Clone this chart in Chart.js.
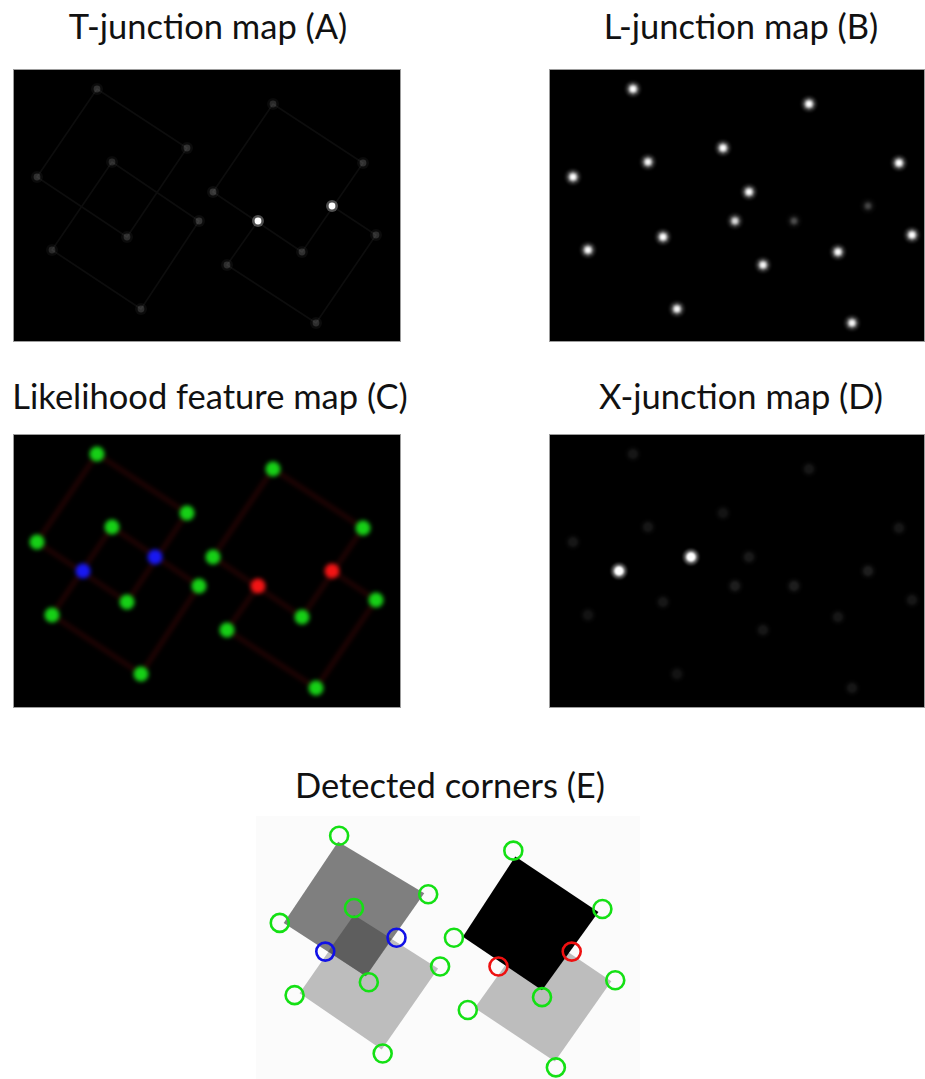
<!DOCTYPE html>
<html>
<head>
<meta charset="utf-8">
<script src="https://cdn.jsdelivr.net/npm/chart.js@4.4.1/dist/chart.umd.min.js"></script>
<style>
  body { margin: 0; background: #fff; width: 925px; height: 1079px; overflow: hidden; position: relative;
         font-family: Lato, "Open Sans", sans-serif; }
  .title { position: absolute; font-size: 34.5px; line-height: 34.5px; color: #111; text-align: center; white-space: nowrap; }
  .panel { position: absolute; overflow: hidden; background: #000; }
  .panel canvas { position: absolute; left: 0; top: 0; }
  .frame { position: absolute; inset: 0; border: 1px solid #9c9c9c; box-sizing: border-box; pointer-events: none; }
</style>
</head>
<body>
  <div class="title" style="left:8px;top:9px;width:400px;">T-junction map (A)</div>
  <div class="title" style="left:561px;top:9px;width:360px;">L-junction map (B)</div>
  <div class="title" style="left:10px;top:378.5px;width:400px;">Likelihood feature map (C)</div>
  <div class="title" style="left:561px;top:378.5px;width:360px;">X-junction map (D)</div>
  <div class="title" style="left:250px;top:767.5px;width:400px;">Detected corners (E)</div>

  <div class="panel" style="left:13px;top:69px;width:388px;height:273px;">
    <canvas id="mapA" width="388" height="273" style="filter:blur(0.7px)"></canvas><div class="frame"></div>
  </div>
  <div class="panel" style="left:549px;top:69px;width:376px;height:273px;">
    <canvas id="mapB" width="376" height="273" style="filter:blur(0.8px)"></canvas><div class="frame"></div>
  </div>
  <div class="panel" style="left:13px;top:434px;width:388px;height:274px;">
    <canvas id="mapC" width="388" height="274" style="filter:blur(2px)"></canvas><div class="frame"></div>
  </div>
  <div class="panel" style="left:549px;top:434px;width:376px;height:274px;">
    <canvas id="mapD" width="376" height="274" style="filter:blur(1.2px)"></canvas><div class="frame"></div>
  </div>
  <div class="panel" style="left:256px;top:816px;width:384px;height:263px;background:#fbfbfb;">
    <canvas id="mapE" width="384" height="263" style="filter:blur(0.4px)"></canvas>
  </div>

<script>
// Junction positions in image pixels (x to the right, y downward)
const cornerType = ['L','L','L','L','L','L','L','L','L','L','L','L','L','L','L','T','T','X','X'];
const cornerX = [84, 174, 99, 24, 114, 39, 128, 260, 350, 200, 186, 363, 289, 214, 303, 245, 319, 70, 142];
const cornerY = [20, 79, 93, 108, 168, 181, 240, 35, 94, 123, 152, 166, 183, 196, 254, 152, 137, 137, 123];

// Response of each junction filter at every detected position (0..1)
const tResponse = [0.15, 0.15, 0.13, 0.15, 0.14, 0.13, 0.14, 0.13, 0.15, 0.17, 0.16, 0.14, 0.15, 0.14, 0.14, 1, 1, 0, 0];
const lResponse = [1, 1, 0.9, 1, 1, 0.95, 0.9, 1, 1, 0.95, 0.7, 1, 0.95, 0.9, 0.9, 0.18, 0.16, 0, 0];
const xResponse = [0.07, 0.06, 0.07, 0.07, 0.07, 0.06, 0.06, 0.07, 0.07, 0.08, 0.09, 0.07, 0.07, 0.07, 0.07, 0.09, 0.09, 1, 1];

// Image edges, as chains of junction indices
const edgePaths = [[0, 1, 4, 3, 0], [2, 10, 6, 5, 2], [7, 8, 12, 9, 7], [16, 11, 14, 13, 15]];

// Squares of the test scene, painted in this order
const squareFill = ['#bdbdbd', '#7f7f7f', '#5e5e5e', '#bdbdbd', '#000000'];
const squareX = [[99, 184, 127, 44], [83, 170, 111, 28], [99, 137, 111, 73], [279, 359, 302, 221], [262, 346, 289, 209]];
const squareY = [[100, 154, 236, 179], [26, 78, 162, 108], [100, 124, 162, 137], [113, 167, 248, 194], [41, 97, 176, 122]];

// Fills each dataset flagged as a polygon, beneath the point and line datasets
const polygonPlugin = {
  id: 'polygons',
  beforeDatasetsDraw(chart) {
    const ctx = chart.ctx;
    chart.data.datasets.forEach((ds, i) => {
      if (!ds.polygon) return;
      const pts = chart.getDatasetMeta(i).data;
      ctx.save();
      ctx.beginPath();
      pts.forEach((p, k) => (k ? ctx.lineTo(p.x, p.y) : ctx.moveTo(p.x, p.y)));
      ctx.closePath();
      ctx.fillStyle = ds.backgroundColor;
      ctx.fill();
      ctx.restore();
    });
  }
};

function junctions(response) {
  return cornerX.map((x, i) => ({ x, y: cornerY[i], v: response ? response[i] : 1, t: cornerType[i] }));
}

// Edge lines go underneath everything else (higher order is painted first)
function edgeDatasets(color, width) {
  return edgePaths.map(path => ({
    order: 10,
    data: path.map(i => ({ x: cornerX[i], y: cornerY[i] })),
    showLine: true, borderColor: color, borderWidth: width, pointRadius: 0, tension: 0,
    borderJoinStyle: 'round', borderCapStyle: 'round'
  }));
}

function glow(response, radius, alpha, order, style) {
  return {
    order,
    data: junctions(response).filter(p => p.v > 0),
    pointStyle: style || 'circle',
    pointRadius: radius,
    pointBorderWidth: style ? 1.2 : 0,
    pointBackgroundColor: c => 'rgba(255,255,255,' + Math.min(1, alpha * c.raw.v).toFixed(3) + ')',
    pointBorderColor: c => 'rgba(255,255,255,' + Math.min(1, alpha * c.raw.v).toFixed(3) + ')'
  };
}

function options(xMax, yMax) {
  return {
    responsive: false, animation: false, devicePixelRatio: 1, events: [],
    layout: { padding: 0, autoPadding: false },
    plugins: { legend: { display: false }, tooltip: { enabled: false }, title: { display: false } },
    scales: {
      x: { type: 'linear', min: 0, max: xMax, display: false },
      y: { type: 'linear', min: 0, max: yMax, reverse: true, display: false }
    }
  };
}

function draw(id, datasets, xMax, yMax) {
  return new Chart(document.getElementById(id), {
    type: 'scatter',
    data: { datasets },
    options: options(xMax, yMax),
    plugins: [polygonPlugin]
  });
}

// (A) T-junction response
draw('mapA', [
  ...edgeDatasets('#0d0d0d', 1.6),
  glow(tResponse, 6, 0.3, 3),
  glow(tResponse, 3.4, 1, 1)
], 388, 273);

// (B) L-junction response
draw('mapB', [
  glow(lResponse, 8, 0.14, 4),
  glow(lResponse, 6, 0.3, 3, 'star'),
  glow(lResponse, 5, 0.45, 2),
  glow(lResponse, 3, 1, 1)
], 376, 273);

// (C) Likelihood map: green = L, red = T, blue = X
const typeColor = { L: '#16d016', T: '#f21414', X: '#1818f2' };
draw('mapC', [
  ...edgeDatasets('#1f0303', 5),
  {
    order: 1,
    data: junctions(),
    pointRadius: 7.5, pointBorderWidth: 0,
    pointBackgroundColor: c => typeColor[c.raw.t]
  }
], 388, 274);

// (D) X-junction response
draw('mapD', [
  glow(xResponse, 8, 0.3, 3),
  glow(xResponse, 5, 1, 1)
], 376, 274);

// (E) Scene with the detected corners circled
const ringColor = { L: '#14e014', T: '#ee1010', X: '#1010e6' };
draw('mapE', [
  ...squareX.map((xs, s) => ({
    order: 10, polygon: true, backgroundColor: squareFill[s], pointRadius: 0, showLine: false,
    data: xs.map((x, k) => ({ x, y: squareY[s][k] }))
  })),
  {
    order: 1,
    data: junctions(),
    pointRadius: 9, pointBorderWidth: 2.6,
    pointBackgroundColor: 'rgba(0,0,0,0)',
    pointBorderColor: c => ringColor[c.raw.t]
  }
], 388, 265.7);
</script>
</body>
</html>
